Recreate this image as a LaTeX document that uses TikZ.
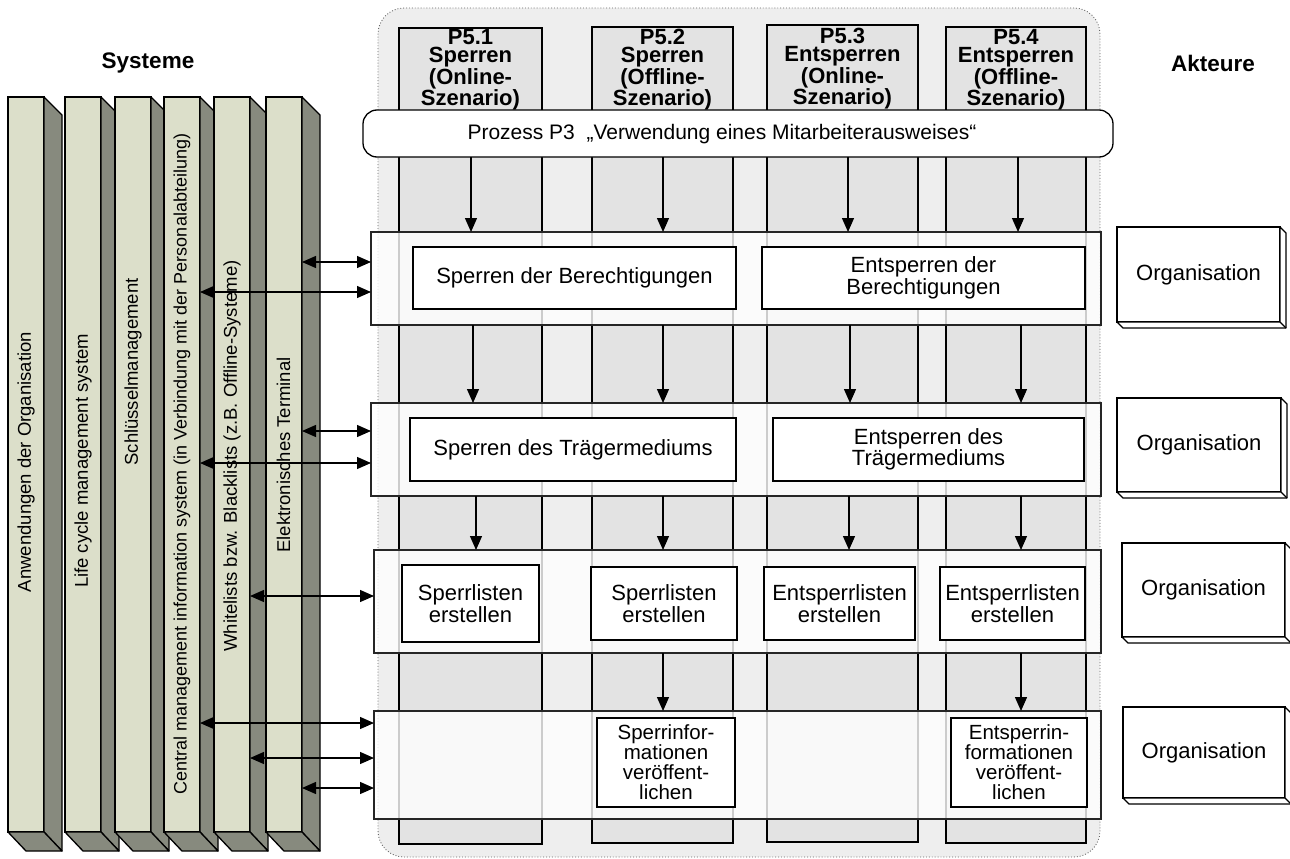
\documentclass[tikz,border=0pt]{standalone}
\usepackage{fontspec}
\setmainfont{Liberation Sans}
\usetikzlibrary{arrows.meta}
\definecolor{bgfill}{HTML}{EEEEEE}
\definecolor{colfill}{HTML}{E3E3E3}
\definecolor{barfront}{HTML}{DCDFCA}
\definecolor{barside}{HTML}{878A7E}
\definecolor{dotline}{HTML}{666666}

\begin{document}
\begin{tikzpicture}[x=1pt,y=-1pt,
  every node/.style={inner sep=0pt, outer sep=0pt},
  hdr/.style={font=\bfseries\fontsize{22}{18}\selectfont, align=center},
  systxt/.style={font=\fontsize{18.5}{20}\selectfont, rotate=90},
  colbox/.style={draw, line width=1.3pt, fill=colfill, anchor=north west},
  band/.style={draw=black!85, line width=1.3pt, fill=white, fill opacity=0.8, anchor=north west},
  stepbox/.style={draw, line width=1.3pt, fill=white, anchor=north west, align=center,
    font=\fontsize{22}{18}\selectfont},
  pubbox/.style={stepbox, font=\fontsize{20.5}{20}\selectfont},
  sysfront/.style={draw, line width=1.3pt, fill=barfront, anchor=north west,
    minimum width=36pt, minimum height=735pt},
  sideface/.style={draw, line width=1.3pt, fill=barside, line join=round},
  actor/.style={draw, line width=1.3pt, fill=white, anchor=north west,
    font=\fontsize{22}{24}\selectfont},
  actside/.style={draw, line width=1.3pt, fill=white, line join=round},
  arr/.style={-{Triangle[length=14pt,width=12pt]}, line width=1.3pt},
  dbl/.style={{Triangle[length=14pt,width=12pt]}-{Triangle[length=14pt,width=12pt]}, line width=1.3pt},
  ttl/.style={font=\bfseries\fontsize{22.5}{24}\selectfont},
]
\useasboundingbox (0,0) rectangle (1290,859);

% process area frame
\node[draw=dotline, dotted, line width=0.9pt, fill=bgfill, rounded corners=26pt,
  anchor=north west, minimum width=722pt, minimum height=849pt] (frame) at (378,8) {};

% process columns
\node[colbox, minimum width=143pt, minimum height=816pt] (c1) at (399,28) {};
\node[colbox, minimum width=141pt, minimum height=816pt] (c2) at (592,27) {};
\node[colbox, minimum width=151pt, minimum height=817pt] (c3) at (767,25) {};
\node[colbox, minimum width=140pt, minimum height=816pt] (c4) at (946,27) {};

\node[hdr] (h1) at (470.5,70) {P5.1\\Sperren\\(Online-\\Szenario)};
\node[hdr] (h2) at (662.5,70) {P5.2\\Sperren\\(Offline-\\Szenario)};
\node[hdr] (h3) at (842.5,69) {P5.3\\Entsperren\\(Online-\\Szenario)};
\node[hdr] (h4) at (1016,70) {P5.4\\Entsperren\\(Offline-\\Szenario)};

% process bar
\node[draw, line width=1.3pt, fill=white, rounded corners=14pt,
  minimum width=750pt, minimum height=47pt] (proc) at (738,133.5) {};
\node[font=\fontsize{21}{24}\selectfont] (proclbl) at (722,134)
  {Prozess P3\ \ „Verwendung eines Mitarbeiterausweises“};

% horizontal bands
\node[band, minimum width=730pt, minimum height=93pt] (band1) at (371,232) {};
\node[band, minimum width=730pt, minimum height=93pt] (band2) at (371,403) {};
\node[band, minimum width=727pt, minimum height=103pt] (band3) at (374,550) {};
\node[band, minimum width=727pt, minimum height=108pt] (band4) at (374,711) {};

% activities
\node[stepbox, minimum width=323pt, minimum height=62pt] (b11) at (413,247) {Sperren der Berechtigungen};
\node[stepbox, minimum width=323pt, minimum height=62pt] (b12) at (762,247) {Entsperren der\\Berechtigungen};
\node[stepbox, minimum width=326pt, minimum height=63pt] (b21) at (410,418) {Sperren des Trägermediums};
\node[stepbox, minimum width=311pt, minimum height=63pt] (b22) at (773,418) {Entsperren des\\Trägermediums};
\node[stepbox, minimum width=137pt, minimum height=77pt] (b31) at (402,565) {Sperrlisten\\erstellen};
\node[stepbox, minimum width=146pt, minimum height=73pt] (b32) at (591,567) {Sperrlisten\\erstellen};
\node[stepbox, minimum width=151pt, minimum height=73pt] (b33) at (764,567) {Entsperrlisten\\erstellen};
\node[stepbox, minimum width=145pt, minimum height=73pt] (b34) at (940,567) {Entsperrlisten\\erstellen};
\node[pubbox, minimum width=138pt, minimum height=89pt] (b42) at (597,718) {Sperrinfor-\\mationen\\veröffent-\\lichen};
\node[pubbox, minimum width=136pt, minimum height=89pt] (b44) at (951,718) {Entsperrin-\\formationen\\veröffent-\\lichen};

% flow between the bands
\foreach \x in {471,663,848,1018} \draw[arr] (proc.south -| \x,0) -- (band1.north -| \x,0);
\foreach \x in {473,663,850,1021} \draw[arr] (band1.south -| \x,0) -- (band2.north -| \x,0);
\foreach \x in {476,663,849,1021} \draw[arr] (band2.south -| \x,0) -- (band3.north -| \x,0);
\foreach \x in {663,1021} \draw[arr] (band3.south -| \x,0) -- (band4.north -| \x,0);

% systems as 3D bars
\foreach \i/\x in {1/8,2/65,3/115,4/164,5/214,6/266} {
  \node[sysfront] (sys\i) at (\x,97) {};
  \path[sideface] (sys\i.north east) -- ++(18,18) -- ([shift={(18,19)}]sys\i.south east)
    -- (sys\i.south east) -- cycle;
  \path[sideface] (sys\i.south west) -- (sys\i.south east) -- ++(18,19)
    -- ([shift={(18,19)}]sys\i.south west) -- cycle;
}
\node[systxt] (s1) at (26,462) {Anwendungen der Organisation};
\node[systxt] (s2) at (83,461) {Life cycle management system};
\node[systxt] (s3) at (133,372) {Schlüsselmanagement};
\node[systxt, font=\fontsize{18}{20}\selectfont] (s4) at (182,464) {Central management information system (in Verbindung mit der Personalabteilung)};
\node[systxt] (s5) at (232,456) {Whitelists bzw. Blacklists (z.B. Offline-Systeme)};
\node[systxt] (s6) at (283.5,455) {Elektronisches Terminal};

% system interfaces
\draw[dbl] (sys6.east |- 0,262) -- (band1.west |- 0,262);
\draw[dbl] (sys4.east |- 0,292) -- (band1.west |- 0,292);
\draw[dbl] (sys6.east |- 0,431) -- (band2.west |- 0,431);
\draw[dbl] (sys4.east |- 0,463) -- (band2.west |- 0,463);
\draw[dbl] (sys5.east |- 0,596) -- (band3.west |- 0,596);
\draw[dbl] (sys4.east |- 0,723) -- (band4.west |- 0,723);
\draw[dbl] (sys5.east |- 0,758) -- (band4.west |- 0,758);
\draw[dbl] (sys6.east |- 0,788) -- (band4.west |- 0,788);

% actors
\node[actor, minimum width=163pt, minimum height=95pt] (a1) at (1117,227) {Organisation};
\node[actor, minimum width=164pt, minimum height=94pt] (a2) at (1117,398) {Organisation};
\node[actor, minimum width=163pt, minimum height=94pt] (a3) at (1122,543) {Organisation};
\node[actor, minimum width=162pt, minimum height=91pt] (a4) at (1123,707) {Organisation};
\foreach \a in {a1,a2,a3,a4} {
  \path[actside] (\a.north east) -- ++(6,6) -- ([shift={(6,6)}]\a.south east)
    -- ([shift={(6,6)}]\a.south west) -- (\a.south west) -- (\a.south east) -- cycle;
  \draw[line width=1.3pt] (\a.south east) -- ++(6,6);
}

% titles
\node[ttl] (systeme) at (148,63) {Systeme};
\node[ttl] (akteure) at (1213,63) {Akteure};
\end{tikzpicture}
\end{document}
